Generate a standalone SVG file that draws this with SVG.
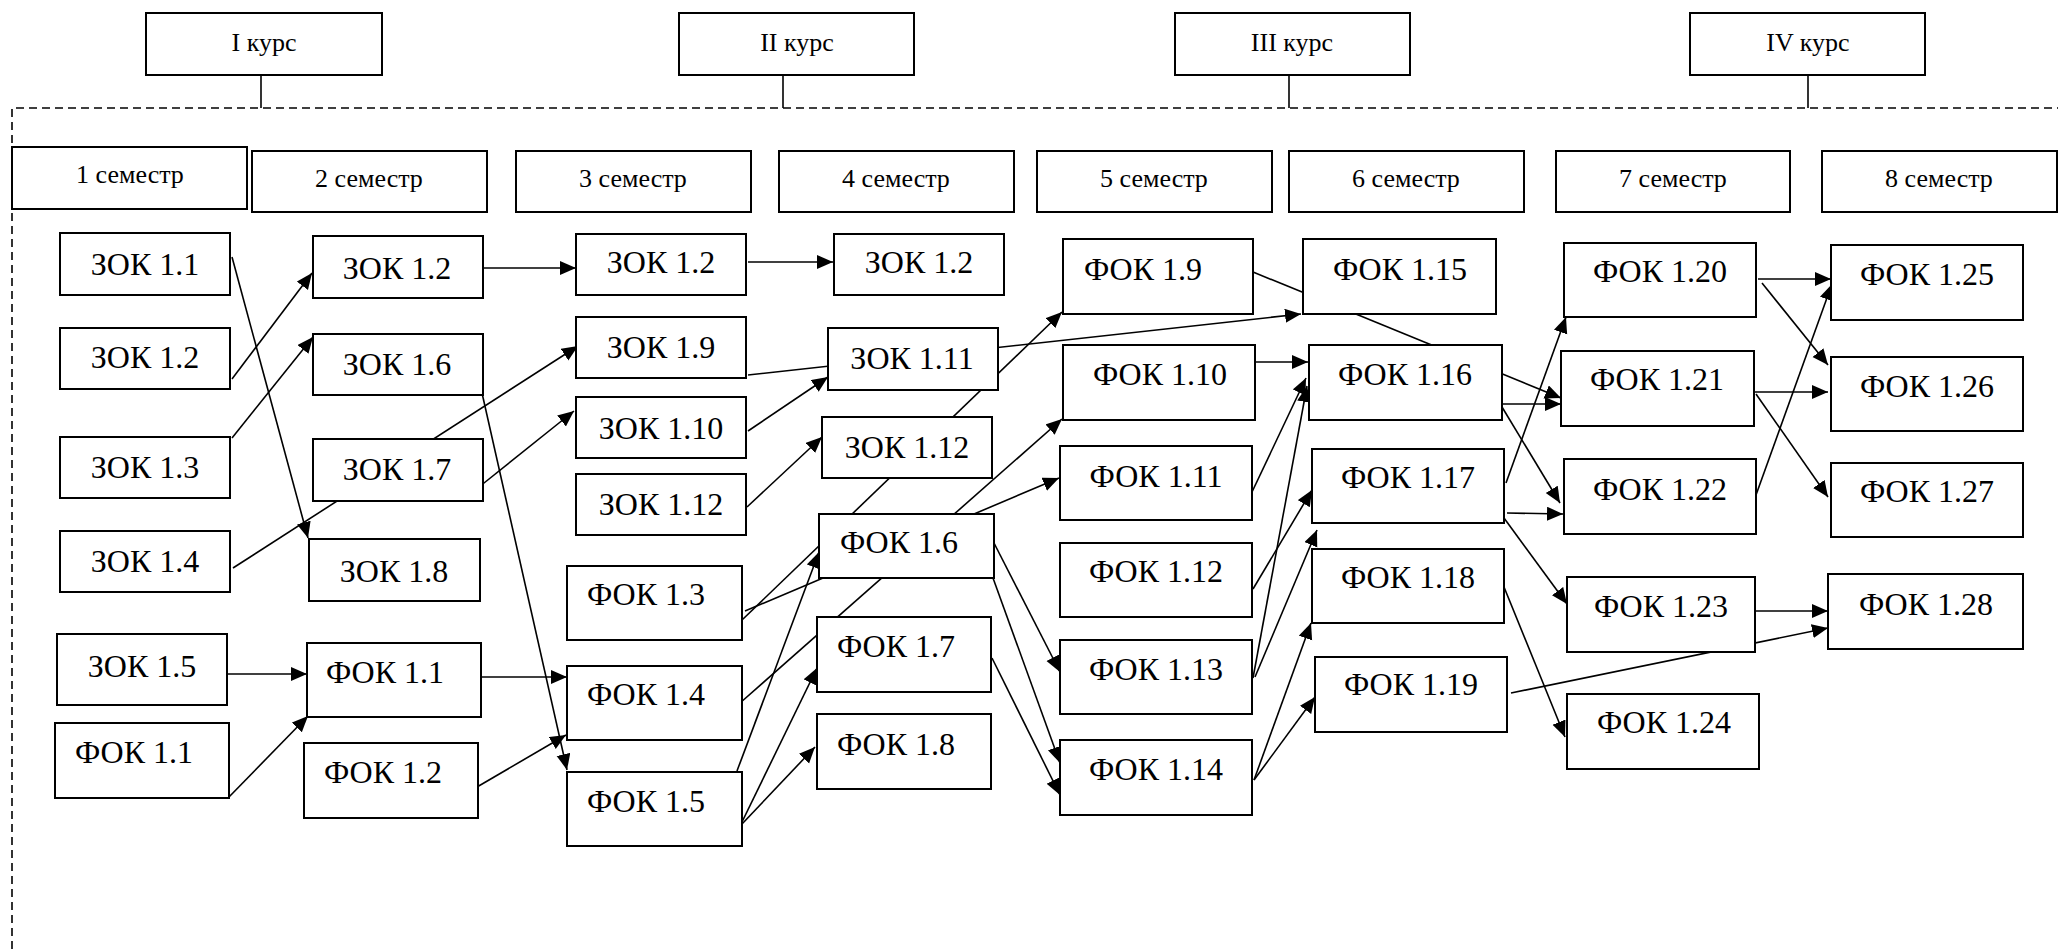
<svg xmlns="http://www.w3.org/2000/svg" width="2058" height="949" viewBox="0 0 2058 949" font-family="Liberation Serif, Times New Roman, serif">
<defs>
<marker id="ah" markerUnits="userSpaceOnUse" markerWidth="17" markerHeight="15" refX="16" refY="7" orient="auto">
<path d="M0,0 L16,7 L0,14 z" fill="#000"/>
</marker>
<style>
.box{fill:#fff;stroke:#000;stroke-width:2}
.t{font-family:'Liberation Serif','Times New Roman',serif;font-size:32px;fill:#000;text-anchor:middle}
.h{font-family:'Liberation Serif','Times New Roman',serif;font-size:26px;fill:#000;text-anchor:middle}
.c line{stroke:#000;stroke-width:1.6;marker-end:url(#ah)}
.frame{fill:none;stroke:#000;stroke-width:1.6;stroke-dasharray:8,5}
.tick{stroke:#000;stroke-width:1.6}
</style>
</defs>
<rect width="2058" height="949" fill="#fff"/>
<g id="frame">
<path class="frame" d="M12,949 L12,108 L2058,108"/>
<line class="tick" x1="261" y1="75" x2="261" y2="108"/>
<line class="tick" x1="783" y1="75" x2="783" y2="108"/>
<line class="tick" x1="1289" y1="75" x2="1289" y2="108"/>
<line class="tick" x1="1808" y1="75" x2="1808" y2="108"/>
</g>
<g id="connectors" class="c">
<line x1="232" y1="257" x2="308" y2="538"/>
<line x1="232" y1="379" x2="312" y2="273"/>
<line x1="232" y1="438" x2="313" y2="337"/>
<line x1="233" y1="568" x2="578" y2="346"/>
<line x1="479" y1="487" x2="574" y2="411"/>
<line x1="482" y1="393" x2="567" y2="770"/>
<line x1="228" y1="674" x2="307" y2="674"/>
<line x1="228" y1="798" x2="308" y2="716"/>
<line x1="481" y1="677" x2="567" y2="677"/>
<line x1="477" y1="787" x2="566" y2="735"/>
<line x1="479" y1="268" x2="576" y2="268"/>
<line x1="748" y1="262" x2="833" y2="262"/>
<line x1="748" y1="375" x2="1301" y2="314"/>
<line x1="748" y1="431" x2="828" y2="377"/>
<line x1="747" y1="507" x2="822" y2="437"/>
<line x1="742" y1="620" x2="1062" y2="312"/>
<line x1="745" y1="611" x2="1059" y2="478"/>
<line x1="740" y1="703" x2="1062" y2="419"/>
<line x1="737" y1="771" x2="819" y2="552"/>
<line x1="742" y1="822" x2="817" y2="668"/>
<line x1="742" y1="824" x2="815" y2="747"/>
<line x1="994" y1="543" x2="1060" y2="672"/>
<line x1="993" y1="578" x2="1060" y2="763"/>
<line x1="992" y1="658" x2="1060" y2="795"/>
<line x1="1253" y1="272" x2="1561" y2="398"/>
<line x1="1256" y1="362" x2="1308" y2="362"/>
<line x1="1252" y1="492" x2="1306" y2="378"/>
<line x1="1253" y1="589" x2="1312" y2="490"/>
<line x1="1253" y1="678" x2="1307" y2="386"/>
<line x1="1255" y1="677" x2="1317" y2="530"/>
<line x1="1254" y1="780" x2="1311" y2="623"/>
<line x1="1254" y1="780" x2="1315" y2="697"/>
<line x1="1502" y1="404" x2="1561" y2="404"/>
<line x1="1502" y1="407" x2="1560" y2="503"/>
<line x1="1506" y1="483" x2="1566" y2="317"/>
<line x1="1507" y1="513" x2="1563" y2="514"/>
<line x1="1504" y1="518" x2="1567" y2="604"/>
<line x1="1504" y1="587" x2="1565" y2="737"/>
<line x1="1511" y1="693" x2="1828" y2="628"/>
<line x1="1758" y1="279" x2="1831" y2="279"/>
<line x1="1762" y1="283" x2="1828" y2="365"/>
<line x1="1756" y1="495" x2="1832" y2="284"/>
<line x1="1754" y1="392" x2="1828" y2="392"/>
<line x1="1756" y1="394" x2="1828" y2="497"/>
<line x1="1756" y1="611" x2="1828" y2="611"/>
</g>
<g id="course1"><rect class="box" x="146" y="13" width="236" height="62"/><text class="h" x="264" y="51">I курс</text></g>
<g id="course2"><rect class="box" x="679" y="13" width="235" height="62"/><text class="h" x="797" y="51">II курс</text></g>
<g id="course3"><rect class="box" x="1175" y="13" width="235" height="62"/><text class="h" x="1292" y="51">III курс</text></g>
<g id="course4"><rect class="box" x="1690" y="13" width="235" height="62"/><text class="h" x="1808" y="51">IV курс</text></g>
<g id="sem1"><rect class="box" x="12" y="147" width="235" height="62"/><text class="h" x="130" y="183">1 семестр</text></g>
<g id="sem2"><rect class="box" x="252" y="151" width="235" height="61"/><text class="h" x="369" y="187">2 семестр</text></g>
<g id="sem3"><rect class="box" x="516" y="151" width="235" height="61"/><text class="h" x="633" y="187">3 семестр</text></g>
<g id="sem4"><rect class="box" x="779" y="151" width="235" height="61"/><text class="h" x="896" y="187">4 семестр</text></g>
<g id="sem5"><rect class="box" x="1037" y="151" width="235" height="61"/><text class="h" x="1154" y="187">5 семестр</text></g>
<g id="sem6"><rect class="box" x="1289" y="151" width="235" height="61"/><text class="h" x="1406" y="187">6 семестр</text></g>
<g id="sem7"><rect class="box" x="1556" y="151" width="234" height="61"/><text class="h" x="1673" y="187">7 семестр</text></g>
<g id="sem8"><rect class="box" x="1822" y="151" width="235" height="61"/><text class="h" x="1939" y="187">8 семестр</text></g>
<g id="z11"><rect class="box" x="60" y="233" width="170" height="62"/><text class="t" x="145" y="275">ЗОК 1.1</text></g>
<g id="z12a"><rect class="box" x="60" y="328" width="170" height="61"/><text class="t" x="145" y="368">ЗОК 1.2</text></g>
<g id="z13"><rect class="box" x="60" y="437" width="170" height="61"/><text class="t" x="145" y="478">ЗОК 1.3</text></g>
<g id="z14"><rect class="box" x="60" y="531" width="170" height="61"/><text class="t" x="145" y="572">ЗОК 1.4</text></g>
<g id="z15"><rect class="box" x="57" y="634" width="170" height="71"/><text class="t" x="142" y="677">ЗОК 1.5</text></g>
<g id="f11a"><rect class="box" x="55" y="723" width="174" height="75"/><text class="t" x="134" y="763">ФОК 1.1</text></g>
<g id="z12b"><rect class="box" x="313" y="236" width="170" height="62"/><text class="t" x="397" y="279">ЗОК 1.2</text></g>
<g id="z16"><rect class="box" x="313" y="334" width="170" height="61"/><text class="t" x="397" y="375">ЗОК 1.6</text></g>
<g id="z17"><rect class="box" x="313" y="439" width="170" height="62"/><text class="t" x="397" y="480">ЗОК 1.7</text></g>
<g id="z18"><rect class="box" x="309" y="539" width="171" height="62"/><text class="t" x="394" y="582">ЗОК 1.8</text></g>
<g id="f11b"><rect class="box" x="307" y="643" width="174" height="74"/><text class="t" x="385" y="683">ФОК 1.1</text></g>
<g id="f12"><rect class="box" x="304" y="743" width="174" height="75"/><text class="t" x="383" y="783">ФОК 1.2</text></g>
<g id="z12c"><rect class="box" x="576" y="234" width="170" height="61"/><text class="t" x="661" y="273">ЗОК 1.2</text></g>
<g id="z19"><rect class="box" x="576" y="317" width="170" height="61"/><text class="t" x="661" y="358">ЗОК 1.9</text></g>
<g id="z110"><rect class="box" x="576" y="397" width="170" height="61"/><text class="t" x="661" y="439">ЗОК 1.10</text></g>
<g id="z112c"><rect class="box" x="576" y="474" width="170" height="61"/><text class="t" x="661" y="515">ЗОК 1.12</text></g>
<g id="f13"><rect class="box" x="567" y="566" width="175" height="74"/><text class="t" x="646" y="605">ФОК 1.3</text></g>
<g id="f14"><rect class="box" x="567" y="666" width="175" height="74"/><text class="t" x="646" y="705">ФОК 1.4</text></g>
<g id="f15"><rect class="box" x="567" y="772" width="175" height="74"/><text class="t" x="646" y="812">ФОК 1.5</text></g>
<g id="z12d"><rect class="box" x="834" y="234" width="170" height="61"/><text class="t" x="919" y="273">ЗОК 1.2</text></g>
<g id="z111"><rect class="box" x="828" y="328" width="170" height="62"/><text class="t" x="912" y="369">ЗОК 1.11</text></g>
<g id="z112d"><rect class="box" x="822" y="417" width="170" height="61"/><text class="t" x="907" y="458">ЗОК 1.12</text></g>
<g id="f16"><rect class="box" x="819" y="514" width="175" height="64"/><text class="t" x="899" y="553">ФОК 1.6</text></g>
<g id="f17"><rect class="box" x="817" y="617" width="174" height="75"/><text class="t" x="896" y="657">ФОК 1.7</text></g>
<g id="f18"><rect class="box" x="817" y="714" width="174" height="75"/><text class="t" x="896" y="755">ФОК 1.8</text></g>
<g id="f19"><rect class="box" x="1063" y="239" width="190" height="75"/><text class="t" x="1143" y="280">ФОК 1.9</text></g>
<g id="f110"><rect class="box" x="1063" y="345" width="192" height="75"/><text class="t" x="1160" y="385">ФОК 1.10</text></g>
<g id="f111"><rect class="box" x="1060" y="446" width="192" height="74"/><text class="t" x="1156" y="487">ФОК 1.11</text></g>
<g id="f112"><rect class="box" x="1060" y="543" width="192" height="74"/><text class="t" x="1156" y="582">ФОК 1.12</text></g>
<g id="f113"><rect class="box" x="1060" y="640" width="192" height="74"/><text class="t" x="1156" y="680">ФОК 1.13</text></g>
<g id="f114"><rect class="box" x="1060" y="740" width="192" height="75"/><text class="t" x="1156" y="780">ФОК 1.14</text></g>
<g id="f115"><rect class="box" x="1303" y="239" width="193" height="75"/><text class="t" x="1400" y="280">ФОК 1.15</text></g>
<g id="f116"><rect class="box" x="1309" y="345" width="193" height="75"/><text class="t" x="1405" y="385">ФОК 1.16</text></g>
<g id="f117"><rect class="box" x="1312" y="449" width="192" height="74"/><text class="t" x="1408" y="488">ФОК 1.17</text></g>
<g id="f118"><rect class="box" x="1312" y="549" width="192" height="74"/><text class="t" x="1408" y="588">ФОК 1.18</text></g>
<g id="f119"><rect class="box" x="1315" y="657" width="192" height="75"/><text class="t" x="1411" y="695">ФОК 1.19</text></g>
<g id="f120"><rect class="box" x="1564" y="243" width="192" height="74"/><text class="t" x="1660" y="282">ФОК 1.20</text></g>
<g id="f121"><rect class="box" x="1561" y="351" width="193" height="75"/><text class="t" x="1657" y="390">ФОК 1.21</text></g>
<g id="f122"><rect class="box" x="1564" y="459" width="192" height="75"/><text class="t" x="1660" y="500">ФОК 1.22</text></g>
<g id="f123"><rect class="box" x="1567" y="577" width="188" height="75"/><text class="t" x="1661" y="617">ФОК 1.23</text></g>
<g id="f124"><rect class="box" x="1567" y="694" width="192" height="75"/><text class="t" x="1664" y="733">ФОК 1.24</text></g>
<g id="f125"><rect class="box" x="1831" y="245" width="192" height="75"/><text class="t" x="1927" y="285">ФОК 1.25</text></g>
<g id="f126"><rect class="box" x="1831" y="357" width="192" height="74"/><text class="t" x="1927" y="397">ФОК 1.26</text></g>
<g id="f127"><rect class="box" x="1831" y="463" width="192" height="74"/><text class="t" x="1927" y="502">ФОК 1.27</text></g>
<g id="f128"><rect class="box" x="1828" y="574" width="195" height="75"/><text class="t" x="1926" y="615">ФОК 1.28</text></g>
</svg>
